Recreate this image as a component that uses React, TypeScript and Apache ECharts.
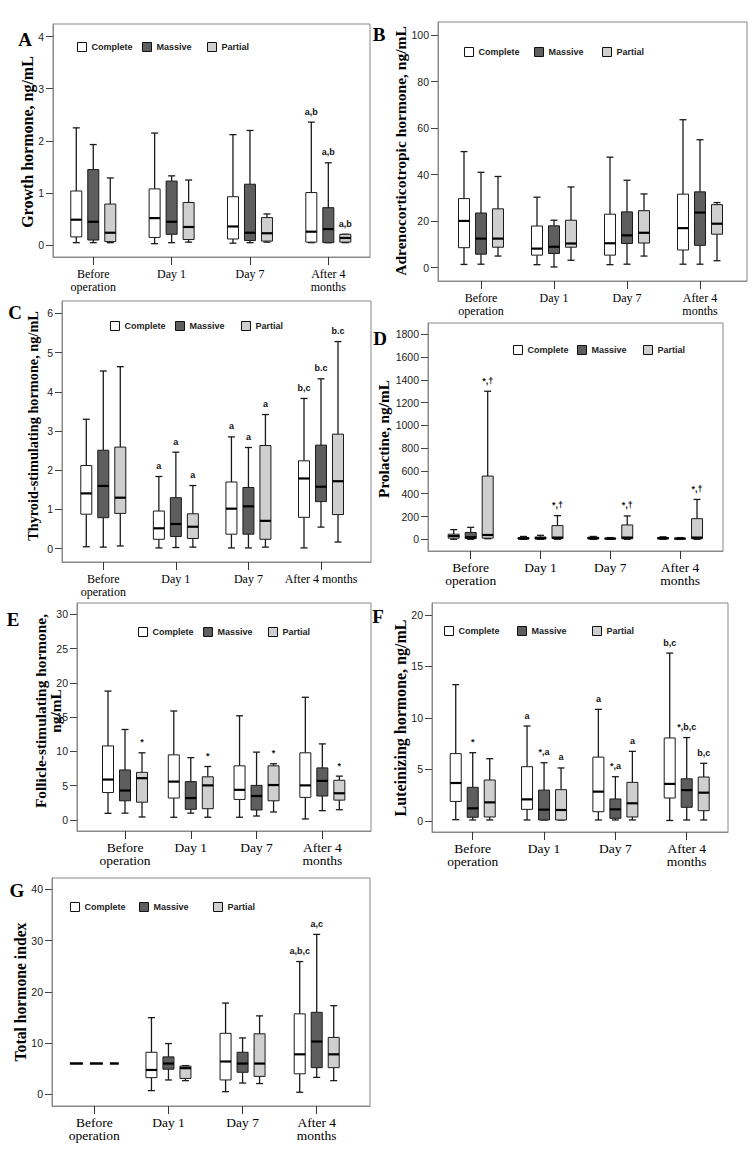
import React, { useEffect, useRef } from 'react';
import * as echarts from 'echarts';

const GROUPS = ['Complete', 'Massive', 'Partial'];
const FILLS = ['#ffffff', '#5e5e5e', '#cfcfcf'];
const TIMEPOINTS = ['Before operation', 'Day 1', 'Day 7', 'After 4 months'];
const X_LABELS_WRAPPED = ['Before\noperation', 'Day 1', 'Day 7', 'After 4\nmonths'];
const X_LABELS_C = ['Before\noperation', 'Day 1', 'Day 7', 'After 4 months'];

// each row: [min, Q1, median, Q3, max] for Before operation, Day 1, Day 7, After 4 months
const A_complete = [[0.05, 0.16, 0.49, 1.04, 2.25], [0.03, 0.15, 0.52, 1.08, 2.15], [0.04, 0.12, 0.36, 0.93, 2.12], [0.05, 0.06, 0.26, 1.01, 2.36]];
const A_massive = [[0.05, 0.1, 0.45, 1.45, 1.93], [0.05, 0.21, 0.45, 1.23, 1.33], [0.05, 0.09, 0.24, 1.17, 2.2], [0.05, 0.05, 0.31, 0.72, 1.58]];
const A_partial = [[0.05, 0.07, 0.24, 0.79, 1.29], [0.06, 0.11, 0.35, 0.82, 1.25], [0.06, 0.08, 0.23, 0.53, 0.6], [0.05, 0.06, 0.14, 0.21, 0.21]];
const A_notesC = ['', '', '', 'a,b'];
const A_notesM = ['', '', '', 'a,b'];
const A_notesP = ['', '', '', 'a,b'];
const A_ticks = [0, 1, 2, 3, 4];

const B_complete = [[1.4, 8.6, 20.1, 29.7, 49.9], [1.3, 5.4, 8.2, 17.9, 30.3], [1.3, 5.4, 10.5, 23, 47.5], [1.5, 7.6, 17, 31.6, 63.6]];
const B_massive = [[1.5, 5.8, 12.5, 23.5, 41], [0.3, 6.1, 9, 18, 20.4], [1.5, 10.4, 13.9, 24, 37.6], [1.5, 9.6, 23.7, 32.6, 55]];
const B_partial = [[5, 8.8, 12.5, 25.3, 39.2], [3.2, 8.8, 10.4, 20.4, 34.7], [5, 10.6, 15, 24.5, 31.7], [3, 14.4, 18.9, 27.1, 28]];
const B_notes = ['', '', '', ''];
const B_ticks = [0, 20, 40, 60, 80, 100];

const C_complete = [[0.05, 0.88, 1.41, 2.12, 3.3], [0.02, 0.24, 0.52, 0.96, 1.84], [0.02, 0.37, 1.02, 1.7, 2.85], [0.02, 0.8, 1.79, 2.24, 3.83]];
const C_massive = [[0.04, 0.79, 1.6, 2.51, 4.53], [0.03, 0.31, 0.63, 1.3, 2.46], [0.02, 0.37, 1.08, 1.56, 2.58], [0.55, 1.2, 1.58, 2.64, 4.33]];
const C_partial = [[0.07, 0.9, 1.3, 2.59, 4.64], [0.04, 0.26, 0.56, 0.89, 1.61], [0.04, 0.24, 0.71, 2.63, 3.42], [0.17, 0.87, 1.72, 2.92, 5.28]];
const C_notesC = ['', 'a', 'a', 'b,c'];
const C_notesM = ['', 'a', 'a', 'b.c'];
const C_notesP = ['', 'a', 'a', 'b.c'];
const C_ticks = [0, 1, 2, 3, 4, 5, 6];

const D_complete = [[0, 10, 28, 45, 85], [0, 3, 8, 15, 25], [0, 4, 10, 18, 25], [0, 4, 10, 15, 22]];
const D_massive = [[0, 6, 18, 60, 105], [0, 3, 10, 20, 35], [0, 3, 6, 10, 15], [0, 2, 6, 10, 15]];
const D_partial = [[5, 10, 38, 555, 1300], [0, 6, 15, 120, 208], [0, 5, 15, 126, 205], [0, 5, 15, 181, 350]];
const D_notesP = ['*,†', '*,†', '*,†', '*,†'];
const D_ticks = [0, 200, 400, 600, 800, 1000, 1200, 1400, 1600, 1800];

const E_complete = [[0.97, 4.0, 5.9, 10.8, 18.8], [0.4, 3.2, 5.6, 9.5, 15.9], [0.4, 3.0, 4.4, 7.9, 15.2], [0.15, 3.3, 5.05, 9.8, 17.9]];
const E_massive = [[1.0, 2.8, 4.3, 7.3, 13.2], [1.0, 1.56, 3.2, 5.6, 9.1], [0.58, 1.46, 3.5, 5.05, 9.9], [1.36, 3.5, 5.7, 7.6, 11.1]];
const E_partial = [[0.44, 2.6, 6.1, 6.95, 9.8], [0.4, 1.65, 5.05, 6.3, 7.8], [1.17, 2.8, 5.1, 7.9, 8.2], [1.5, 2.9, 3.9, 5.8, 6.4]];
const E_notesP = ['*', '*', '*', '*'];
const E_ticks = [0, 5, 10, 15, 20, 25, 30];

const F_complete = [[0.13, 1.9, 3.69, 6.54, 13.24], [0.1, 1.13, 2.1, 5.27, 9.22], [0.1, 0.9, 2.85, 6.2, 10.84], [0.05, 2.23, 3.6, 8.06, 16.3]];
const F_massive = [[0.1, 0.36, 1.23, 3.27, 6.63], [0.1, 0.1, 1.1, 3.0, 5.66], [0.1, 0.26, 1.13, 2.14, 4.3], [0.1, 1.33, 3.0, 4.1, 8.1]];
const F_partial = [[0.1, 0.39, 1.81, 3.98, 6.05], [0.1, 0.1, 1.07, 3.04, 5.15], [0.1, 0.39, 1.72, 3.75, 6.76], [0.1, 1.0, 2.75, 4.27, 5.6]];
const F_notesC = ['', 'a', 'a', 'b,c'];
const F_notesM = ['*', '*,a', '*,a', '*,b,c'];
const F_notesP = ['', 'a', 'a', 'b,c'];
const F_ticks = [0, 5, 10, 15, 20];

const G_complete = [null, [0.72, 3.25, 4.75, 8.2, 14.96], [0.52, 2.8, 6.4, 11.9, 17.8], [0.4, 4.0, 7.8, 15.7, 25.9]];
const G_massive = [null, [2.8, 4.9, 6.0, 7.3, 9.9], [2.2, 4.3, 6.0, 8.2, 11.0], [3.3, 5.2, 10.3, 16.0, 31.2]];
const G_partial = [null, [2.67, 3.1, 5.1, 5.5, 5.6], [2.1, 3.5, 6.0, 11.8, 15.3], [2.67, 5.2, 7.8, 11.1, 17.3]];
const G_notesC = ['', '', '', 'a,b,c'];
const G_notesM = ['', '', '', 'a,c'];
const G_beforeValue = 6;
const G_ticks = [0, 10, 20, 30, 40];

const EMPTY = ['', '', '', ''];

const PANELS: any[] = [
  { key: 'A', title: 'Growth hormone, ng/mL', data: [A_complete, A_massive, A_partial], notes: [A_notesC, A_notesM, A_notesP], ticks: A_ticks,
    yMin: -0.225, yMax: 4.24, xMin: -0.514, xMax: 3.532, grid: { left: 53, top: 24, width: 317, height: 233 },
    xLabels: X_LABELS_WRAPPED, xFont: 12, titleX: 27, titleY: 142, titleSize: 16, letterX: 25, letterY: 39, legendX: [77, 142, 207], legendY: 47 },
  { key: 'B', title: 'Adrenocorticotropic hormone, ng/mL', data: [B_complete, B_massive, B_partial], notes: [B_notes, B_notes, B_notes], ticks: B_ticks,
    yMin: -5.72, yMax: 105.6, xMin: -0.589, xMax: 3.644, grid: { left: 438, top: 22, width: 309, height: 259 },
    xLabels: X_LABELS_WRAPPED, xFont: 12, titleX: 400, titleY: 151, titleSize: 15.5, letterX: 379, letterY: 34, legendX: [464, 534, 602], legendY: 52 },
  { key: 'C', title: 'Thyroid-stimulating hormone, ng/mL', data: [C_complete, C_massive, C_partial], notes: [C_notesC, C_notesM, C_notesP], ticks: C_ticks,
    yMin: -0.339, yMax: 6.314, xMin: -0.569, xMax: 3.689, grid: { left: 62, top: 301, width: 309, height: 261 },
    xLabels: X_LABELS_C, xFont: 12, titleX: 33, titleY: 426, titleSize: 14.3, letterX: 15, letterY: 312, legendX: [110, 175, 241], legendY: 326 },
  { key: 'D', title: 'Prolactine, ng/mL', data: [D_complete, D_massive, D_partial], notes: [EMPTY, EMPTY, D_notesP], ticks: D_ticks,
    yMin: -102.7, yMax: 1899, xMin: -0.612, xMax: 3.616, grid: { left: 428, top: 323, width: 295, height: 228 },
    xLabels: X_LABELS_WRAPPED, xFont: 13.5, titleX: 383, titleY: 439, titleSize: 15.3, letterX: 380, letterY: 338, legendX: [513, 577, 643], legendY: 350 },
  { key: 'E', title: 'Follicle-stimulating hormone,\nng/mL', data: [E_complete, E_massive, E_partial], notes: [EMPTY, EMPTY, E_notesP], ticks: E_ticks,
    yMin: -1.604, yMax: 31.65, xMin: -0.73, xMax: 3.74, grid: { left: 77, top: 603, width: 294, height: 228 },
    xLabels: X_LABELS_WRAPPED, xFont: 13.5, titleX: 48, titleY: 711, titleSize: 15.4, letterX: 13, letterY: 619, legendX: [138, 203, 268], legendY: 632 },
  { key: 'F', title: 'Luteinizing hormone, ng/mL', data: [F_complete, F_massive, F_partial], notes: [F_notesC, F_notesM, F_notesP], ticks: F_ticks,
    yMin: -1.068, yMax: 21.165, xMin: -0.571, xMax: 3.579, grid: { left: 432, top: 603, width: 296, height: 229 },
    xLabels: X_LABELS_WRAPPED, xFont: 13.5, titleX: 400, titleY: 718, titleSize: 16, letterX: 378, letterY: 616, legendX: [444, 517, 592], legendY: 631 },
  { key: 'G', title: 'Total hormone index', data: [G_complete, G_massive, G_partial], notes: [G_notesC, G_notesM, EMPTY], ticks: G_ticks,
    yMin: -2.28, yMax: 42.2, xMin: -0.571, xMax: 3.719, grid: { left: 52, top: 878, width: 318, height: 228 },
    xLabels: X_LABELS_WRAPPED, xFont: 13.5, titleX: 20, titleY: 992, titleSize: 15.7, letterX: 17, letterY: 890, legendX: [70, 139, 213], legendY: 907 },
];

const OFFSETS = [-17, 0, 17];
const BOX_HALF = 5.5;
const CAP_HALF = 3.5;

function makeRender(offset: number, fill: string, notes: string[]) {
  return (params: any, api: any) => {
    const xi = api.value(0);
    const lo = api.value(1), q1 = api.value(2), med = api.value(3), q3 = api.value(4), hi = api.value(5);
    const base = api.coord([xi, med]);
    const cx = base[0] + offset;
    const yOf = (v: number) => api.coord([xi, v])[1];
    const yLo = yOf(lo), yQ1 = yOf(q1), yQ3 = yOf(q3), yHi = yOf(hi), yMed = base[1];
    const ws = { stroke: '#1a1a1a', lineWidth: 1.3 };
    const children: any[] = [
      { type: 'line', shape: { x1: cx, y1: yHi, x2: cx, y2: yQ3 }, style: ws },
      { type: 'line', shape: { x1: cx, y1: yQ1, x2: cx, y2: yLo }, style: ws },
      { type: 'line', shape: { x1: cx - CAP_HALF, y1: yHi, x2: cx + CAP_HALF, y2: yHi }, style: ws },
      { type: 'line', shape: { x1: cx - CAP_HALF, y1: yLo, x2: cx + CAP_HALF, y2: yLo }, style: ws },
      { type: 'rect', shape: { x: cx - BOX_HALF, y: yQ3, width: BOX_HALF * 2, height: Math.max(yQ1 - yQ3, 0.5) }, style: { fill, stroke: '#1a1a1a', lineWidth: 1 } },
      { type: 'line', shape: { x1: cx - BOX_HALF, y1: yMed, x2: cx + BOX_HALF, y2: yMed }, style: { stroke: '#000', lineWidth: 2.2 } },
    ];
    const note = notes[Math.round(xi)];
    if (note) {
      children.push({ type: 'text', x: cx, y: yHi - 6, style: { text: note, align: 'center', verticalAlign: 'bottom', font: 'bold 9px "Liberation Sans"', fill: '#111' } });
    }
    return { type: 'group', children };
  };
}

function buildOption() {
  const grid: any[] = [];
  const xAxis: any[] = [];
  const yAxis: any[] = [];
  const series: any[] = [];
  const legend: any[] = [];
  const graphic: any[] = [];
  const xTicks = TIMEPOINTS.map((_, i) => i);

  PANELS.forEach((p, pi) => {
    grid.push({ ...p.grid, show: true, borderColor: '#8a8a8a', borderWidth: 1, backgroundColor: '#fff', containLabel: false });
    xAxis.push({
      gridIndex: pi, type: 'value', min: p.xMin, max: p.xMax,
      splitLine: { show: false },
      axisLine: { show: true, onZero: false, lineStyle: { color: '#8a8a8a' } },
      axisTick: { show: true, length: 8, customValues: xTicks, lineStyle: { color: '#333' } },
      axisLabel: {
        customValues: xTicks, margin: 10, color: '#000', fontFamily: 'Liberation Serif', fontSize: p.xFont, lineHeight: 13,
        formatter: (v: number) => p.xLabels[Math.round(v)] || '',
      },
    });
    yAxis.push({
      gridIndex: pi, type: 'value', min: p.yMin, max: p.yMax,
      splitLine: { show: false },
      axisLine: { show: true, onZero: false, lineStyle: { color: '#8a8a8a' } },
      axisTick: { show: true, length: 7, customValues: p.ticks, lineStyle: { color: '#444' } },
      axisLabel: { customValues: p.ticks, margin: 9, color: '#222', fontFamily: 'Liberation Sans', fontSize: 10.5, formatter: (v: number) => String(v) },
    });
    GROUPS.forEach((g, gi) => {
      const rows = p.data[gi] as any[];
      const data = rows.map((r: any, i: number) => (r ? [i, ...r] : null)).filter((d: any) => d);
      series.push({
        type: 'custom', name: g, xAxisIndex: pi, yAxisIndex: pi,
        itemStyle: { color: FILLS[gi], borderColor: '#000' },
        encode: { x: 0, y: [1, 2, 3, 4, 5] },
        data, renderItem: makeRender(OFFSETS[gi], FILLS[gi], p.notes[gi]),
        silent: true,
      });
      legend.push({
        left: p.legendX[gi], top: p.legendY - 5, padding: 0, itemWidth: 9, itemHeight: 9, selectedMode: false,
        data: [{ name: g, icon: 'rect', itemStyle: { color: FILLS[gi], borderColor: '#111', borderWidth: 1 } }],
        textStyle: { fontSize: 9, fontWeight: 'bold', fontFamily: 'Liberation Sans', color: '#222' },
      });
    });
    graphic.push({
      type: 'text', x: p.titleX, y: p.titleY, rotation: Math.PI / 2,
      style: { text: p.title, align: 'center', verticalAlign: 'middle', font: `bold ${p.titleSize}px "Liberation Serif"`, lineHeight: 14.5, fill: '#000' },
    });
    graphic.push({
      type: 'text', x: p.letterX, y: p.letterY,
      style: { text: p.key, align: 'center', verticalAlign: 'middle', font: 'bold 19px "Liberation Serif"', fill: '#000' },
    });
  });

  series.push({
    type: 'line', name: 'Before operation', xAxisIndex: 6, yAxisIndex: 6, silent: true,
    data: [[-0.33, G_beforeValue], [0.33, G_beforeValue]], showSymbol: false, symbol: 'none',
    lineStyle: { color: '#000', width: 2.5, type: [13, 7] },
  });

  return { animation: false, backgroundColor: '#fff', grid, xAxis, yAxis, series, legend, graphic };
}

export default function App() {
  const ref = useRef<HTMLDivElement>(null);
  useEffect(() => {
    if (!ref.current) return;
    const chart = echarts.init(ref.current, undefined, { renderer: 'svg' });
    chart.setOption(buildOption() as any);
    return () => chart.dispose();
  }, []);
  return <div ref={ref} style={{ position: 'absolute', left: 0, top: 0, width: 756, height: 1151, background: '#fff' }} />;
}
